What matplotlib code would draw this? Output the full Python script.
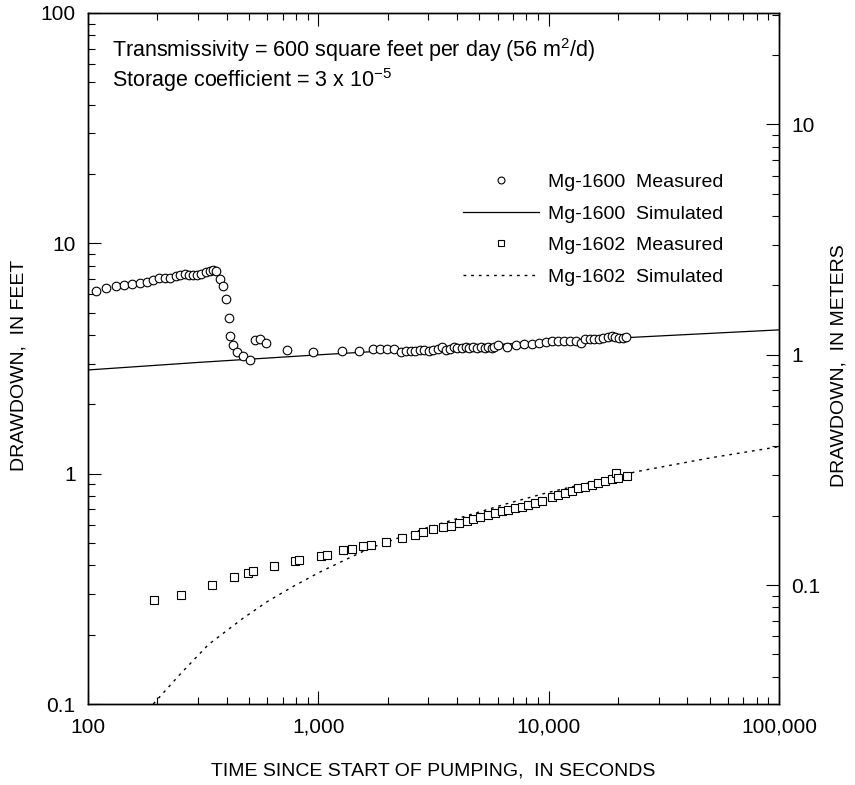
import matplotlib
matplotlib.use("Agg")
import matplotlib.pyplot as plt
from matplotlib.ticker import LogLocator, FixedLocator, FixedFormatter, NullFormatter

FT_PER_M = 3.2808

# Mg-1600 measured drawdown (seconds, feet)
mg1600_t = [108, 120, 132, 144, 156, 168, 180, 192, 204, 215, 227, 240, 252, 263, 275,
            286, 298, 311, 325, 338, 350, 361, 374, 384, 396, 408, 413, 426, 443, 470,
            505, 530, 557, 591, 729, 948, 1266, 1500,
            1731, 1851, 1979, 2129, 2276, 2400, 2515, 2634, 2761, 2883, 3010, 3153, 3293,
            3440, 3580, 3726, 3878, 4009, 4187, 4358, 4520, 4705, 4897, 5078, 5285, 5464,
            5649, 5801, 5998, 6563, 7181, 7805, 8425, 9068, 9692, 10360, 11000, 11680,
            12360, 13080, 13750, 14360, 15100, 15770, 16520, 17250, 18010, 18750, 19380,
            20240, 21060, 21630]
mg1600_d = [6.23, 6.40, 6.51, 6.58, 6.68, 6.75, 6.80, 6.91, 7.05, 7.07, 7.10, 7.22, 7.29,
            7.33, 7.29, 7.26, 7.27, 7.36, 7.52, 7.61, 7.68, 7.61, 6.99, 6.55, 5.73, 4.76,
            3.96, 3.62, 3.38, 3.25, 3.12, 3.81, 3.85, 3.70, 3.45, 3.38, 3.40, 3.42,
            3.47, 3.47, 3.47, 3.48, 3.37, 3.41, 3.42, 3.42, 3.45, 3.45, 3.42, 3.45, 3.47,
            3.53, 3.45, 3.47, 3.53, 3.51, 3.51, 3.53, 3.51, 3.56, 3.51, 3.56, 3.51, 3.56,
            3.51, 3.56, 3.62, 3.56, 3.62, 3.65, 3.65, 3.68, 3.72, 3.75, 3.75, 3.75,
            3.75, 3.77, 3.71, 3.85, 3.85, 3.85, 3.85, 3.87, 3.91, 3.96, 3.91,
            3.87, 3.87, 3.94]

# Mg-1600 simulated
sim1600_t = [100, 300, 1000, 3000, 10000, 30000, 100000]
sim1600_d = [2.82, 3.04, 3.28, 3.50, 3.74, 3.96, 4.21]

# Mg-1602 measured
mg1602_t = [193, 253, 344, 432, 493, 520, 640, 791, 821, 1023, 1090, 1275, 1395, 1567,
            1686, 1965, 2299, 2627, 2853, 3154, 3464, 3763, 4089, 4401, 4702, 5028, 5462,
            5842, 6247, 6672, 7135, 7628, 8147, 8712, 9315, 10295, 10996, 11757, 12572,
            13430, 14360, 15360, 16400, 17540, 18750, 19580, 20030, 21780]
mg1602_d = [0.283, 0.297, 0.327, 0.355, 0.371, 0.377, 0.399, 0.417, 0.421, 0.441, 0.445,
            0.464, 0.473, 0.483, 0.489, 0.507, 0.528, 0.544, 0.557, 0.578, 0.588, 0.595,
            0.613, 0.626, 0.635, 0.647, 0.663, 0.678, 0.688, 0.696, 0.708, 0.720, 0.732,
            0.749, 0.762, 0.791, 0.809, 0.823, 0.845, 0.865, 0.874, 0.894, 0.915, 0.933,
            0.949, 1.011, 0.959, 0.978]

# Mg-1602 simulated
sim1602_t = [192, 250, 333, 472, 606, 778, 1016, 1305, 1675, 3000, 6559, 10000, 24000,
             50000, 100000]
sim1602_d = [0.100, 0.134, 0.181, 0.236, 0.280, 0.324, 0.374, 0.422, 0.475, 0.585, 0.740,
             0.830, 1.020, 1.170, 1.310]

x_ticks = [100, 1000, 10000, 100000]
x_tick_labels = ["100", "1,000", "10,000", "100,000"]
ft_ticks = [0.1, 1, 10, 100]
ft_tick_labels = ["0.1", "1", "10", "100"]
m_ticks = [0.1, 1, 10]
m_tick_labels = ["0.1", "1", "10"]

plt.rcParams["font.family"] = ["Liberation Sans", "DejaVu Sans"]
plt.rcParams["mathtext.fontset"] = "custom"
plt.rcParams["mathtext.rm"] = "Liberation Sans"
plt.rcParams["mathtext.it"] = "Liberation Sans"

fig = plt.figure(figsize=(8.55, 7.85), dpi=100)
ax = fig.add_axes([88 / 855, 1 - 704 / 785, 691 / 855, 691 / 785])

ax.plot(mg1600_t, mg1600_d, "o", ms=6.2, mfc="white", mec="black", mew=0.8,
        label="Mg-1600  Measured", zorder=4)
ax.plot(sim1600_t, sim1600_d, "-", color="black", lw=0.9, label="Mg-1600  Simulated", zorder=3)
ax.plot(mg1602_t, mg1602_d, "s", ms=6.2, mfc="white", mec="black", mew=0.8,
        label="Mg-1602  Measured", zorder=4)
ax.plot(sim1602_t, sim1602_d, color="black", lw=1.0, dashes=(2, 3.5),
        label="Mg-1602  Simulated", zorder=3)

ax.set_xscale("log")
ax.set_yscale("log")
ax.set_xlim(100, 100000)
ax.set_ylim(0.1, 100)

ax.xaxis.set_major_locator(FixedLocator(x_ticks))
ax.xaxis.set_major_formatter(FixedFormatter(x_tick_labels))
ax.xaxis.set_minor_locator(LogLocator(base=10, subs=range(2, 10)))
ax.xaxis.set_minor_formatter(NullFormatter())
ax.yaxis.set_major_locator(FixedLocator(ft_ticks))
ax.yaxis.set_major_formatter(FixedFormatter(ft_tick_labels))
ax.yaxis.set_minor_locator(LogLocator(base=10, subs=range(2, 10)))
ax.yaxis.set_minor_formatter(NullFormatter())

ax.tick_params(which="both", direction="in", top=True, right=False, width=0.8,
               labelsize=15, color="black")
ax.tick_params(which="major", length=9.5)
ax.tick_params(which="minor", length=5)
ax.tick_params(axis="x", pad=10)
ax.tick_params(axis="y", pad=9)

ax2 = ax.twinx()
ax2.set_yscale("log")
ax2.set_ylim(0.1 / FT_PER_M, 100 / FT_PER_M)
ax2.yaxis.set_major_locator(FixedLocator(m_ticks))
ax2.yaxis.set_major_formatter(FixedFormatter(m_tick_labels))
ax2.yaxis.set_minor_locator(LogLocator(base=10, subs=range(2, 10)))
ax2.yaxis.set_minor_formatter(NullFormatter())
ax2.tick_params(which="both", direction="in", width=0.8, labelsize=15, pad=9)
ax2.tick_params(which="major", length=9.5)
ax2.tick_params(which="minor", length=5)

for a in (ax, ax2):
    for s in a.spines.values():
        s.set_linewidth(1.0)
        s.set_color("black")

ax.set_xlabel("TIME SINCE START OF PUMPING,  IN SECONDS", fontsize=14)
ax.set_ylabel("DRAWDOWN,  IN FEET", fontsize=14)
ax2.set_ylabel("DRAWDOWN,  IN METERS", fontsize=14)
ax.xaxis.set_label_coords(0.5, -0.084)
ax.yaxis.set_label_coords(-0.088, 0.49)
ax2.yaxis.set_label_coords(1.075, 0.49)

ax.text(0.035, 0.936, r"Transmissivity = 600 square feet per day (56 m$^2$/d)",
        transform=ax.transAxes, fontsize=15.5, va="baseline")
ax.text(0.035, 0.893, r"Storage coefficient = 3 x 10$^{\mathrm{-5}}$",
        transform=ax.transAxes, fontsize=15.5, va="baseline")

leg = ax.legend(loc="upper right", bbox_to_anchor=(0.92, 0.768), frameon=False,
                fontsize=14, handlelength=3.9, handletextpad=0.5, labelspacing=0.72,
                borderpad=0, borderaxespad=0, markerscale=0.8)

fig.savefig("out.png", dpi=100)
